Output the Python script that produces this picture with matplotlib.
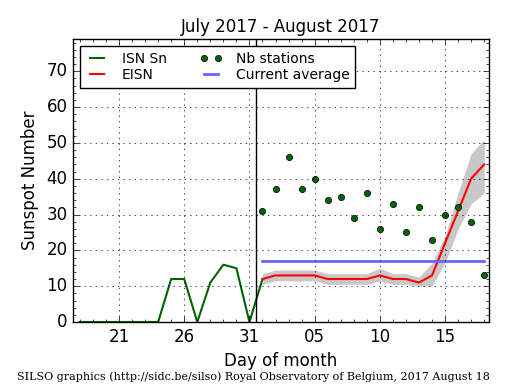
import matplotlib
matplotlib.use("Agg")
import matplotlib.pyplot as plt
from matplotlib.ticker import MultipleLocator, FixedLocator, FixedFormatter

plt.style.use("classic")

# days counted from July: Aug 1 = 32
isn_days = list(range(18, 33))
isn_sn = [0, 0, 0, 0, 0, 0, 0, 12, 12, 0, 11, 16, 15, 0, 12]

aug_days = list(range(32, 50))
eisn = [12, 13, 13, 13, 13, 12, 12, 12, 12, 13, 12, 12, 11, 13, 22, 31, 40, 44]
eisn_low = [10.5, 11.5, 11.5, 11.5, 11.5, 10.5, 10.5, 10.5, 10.5, 11.5, 10.5, 10.5, 10, 10, 16.5, 26, 33, 36]
eisn_high = [13.5, 14.5, 14.5, 14.5, 14.5, 13.5, 13.5, 13.5, 13.5, 15, 13.5, 13.5, 12.5, 16.5, 24, 36, 47, 51]
nb_stations = [31, 37, 46, 37, 40, 34, 35, 29, 36, 26, 33, 25, 32, 23, 30, 32, 28, 13]
current_avg = 17

tick_pos = [21, 26, 31, 36, 41, 46]
tick_lab = ["21", "26", "31", "05", "10", "15"]

fig = plt.figure(figsize=(5.15, 3.9), dpi=100)
ax = fig.add_axes([73 / 515, 1 - 322 / 390, 416 / 515, 283 / 390])

ax.fill_between(aug_days, eisn_low, eisn_high, color="#c8c8c8", lw=0)
ax.plot(isn_days, isn_sn, color="darkgreen", lw=1.5, label="ISN Sn")
ax.plot(aug_days, eisn, color="red", lw=1.5, label="EISN")
ax.plot(aug_days, nb_stations, "o", color="darkgreen", mec="black", mew=0.5,
        ms=4.5, label="Nb stations")
ax.plot([aug_days[0], aug_days[-1]], [current_avg, current_avg], color="#6666ff",
        lw=2, label="Current average")
ax.axvline(31.5, color="black", lw=1)

ax.set_xlim(17.47, 49.37)
ax.set_ylim(0, 79)
ax.xaxis.set_major_locator(FixedLocator(tick_pos))
ax.xaxis.set_major_formatter(FixedFormatter(tick_lab))
ax.xaxis.set_minor_locator(MultipleLocator(1))
ax.yaxis.set_major_locator(MultipleLocator(10))
ax.yaxis.set_minor_locator(MultipleLocator(2))
ax.grid(True, linestyle=":", color="black")
ax.set_xlabel("Day of month")
ax.set_ylabel("Sunspot Number")
ax.set_title("July 2017 - August 2017", fontsize=12)

ax.legend(loc="upper left", ncol=2, fontsize=10, numpoints=2,
          handlelength=1.6, handletextpad=1.0, labelspacing=0.2,
          borderaxespad=0.5, borderpad=0.4, columnspacing=2.4)

fig.text(0.492, 0.025, "SILSO graphics (http://sidc.be/silso) Royal Observatory of Belgium, 2017 August 18",
         ha="center", family="DejaVu Serif", fontsize=8)

fig.savefig("out.png", dpi=100)
